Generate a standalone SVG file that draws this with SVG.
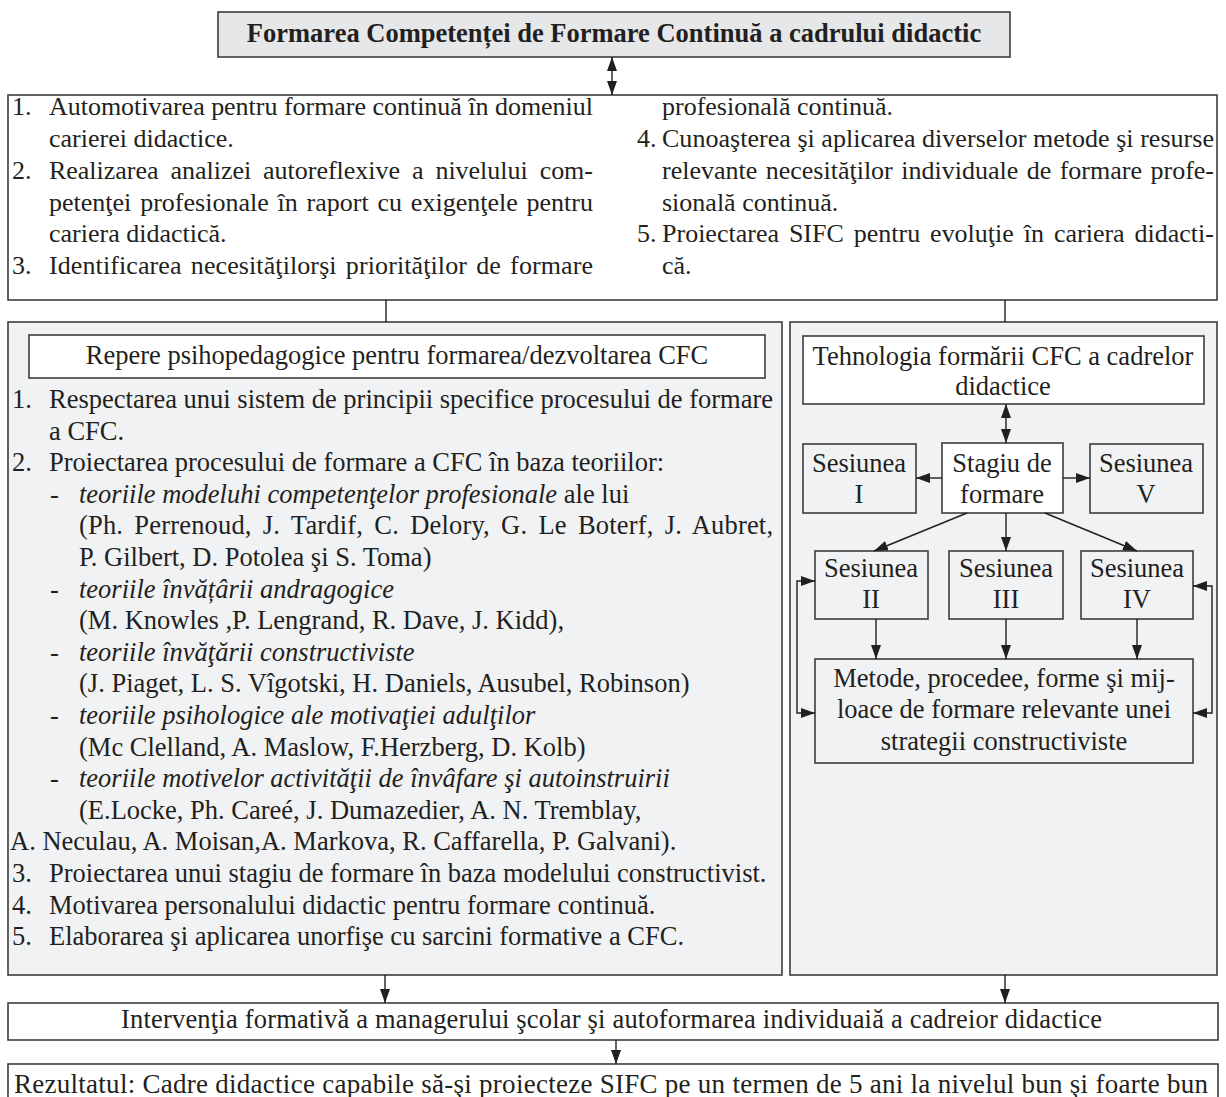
<svg xmlns="http://www.w3.org/2000/svg" width="1226" height="1097" viewBox="0 0 1226 1097">
<style>
.bx{stroke:#3c3c3c;stroke-width:1.6}
.w{fill:#ffffff}
.g{fill:#f1f2f4}
.tg{fill:#e6e7e8}
.t{font-family:"Liberation Serif","Times New Roman",serif;font-size:26.5px;fill:#231f20}
.s{font-size:26px}
.b{font-weight:bold}
.i{font-style:italic}
.c{text-anchor:middle}
.ln{stroke:#231f20;stroke-width:1.4;fill:none}
.a{marker-end:url(#ah)}
.aa{marker-start:url(#ah);marker-end:url(#ah)}
</style>
<defs>
<marker id="ah" viewBox="0 0 14 10" refX="14" refY="5" markerWidth="14" markerHeight="10" markerUnits="userSpaceOnUse" orient="auto-start-reverse"><path d="M0,0 L14,5 L0,10 z" fill="#231f20"/></marker>
</defs>
<rect width="1226" height="1097" fill="#ffffff"/>

<g id="title">
<rect class="bx tg" x="218" y="12" width="792" height="45"/>
<text class="t b c" x="614" y="42">Formarea Competenței de Formare Continuă a cadrului didactic</text>
</g>

<g id="obiective">
<rect class="bx w" x="8" y="95" width="1209" height="205"/>
<text class="t s" x="12" y="115">1.</text>
<text class="t s" x="49" y="115" textLength="544" lengthAdjust="spacing">Automotivarea pentru formare continuă în domeniul</text>
<text class="t s" x="49" y="147">carierei didactice.</text>
<text class="t s" x="12" y="179">2.</text>
<text class="t s" x="49" y="179" word-spacing="5.5" textLength="544" lengthAdjust="spacing">Realizarea analizei autoreflexive a nivelului com-</text>
<text class="t s" x="49" y="211" word-spacing="2.3" textLength="544" lengthAdjust="spacing">petenţei profesionale în raport cu exigenţele pentru</text>
<text class="t s" x="49" y="242">cariera didactică.</text>
<text class="t s" x="12" y="274">3.</text>
<text class="t s" x="49" y="274" word-spacing="2.6" textLength="544" lengthAdjust="spacing">Identificarea necesităţilorşi priorităţilor de formare</text>
<text class="t s" x="662" y="115">profesională continuă.</text>
<text class="t s" x="637" y="147">4.</text>
<text class="t s" x="662" y="147" textLength="552" lengthAdjust="spacing">Cunoaşterea şi aplicarea diverselor metode şi resurse</text>
<text class="t s" x="662" y="179" word-spacing="2" textLength="552" lengthAdjust="spacing">relevante necesităţilor individuale de formare profe-</text>
<text class="t s" x="662" y="211">sională continuă.</text>
<text class="t s" x="637" y="242">5.</text>
<text class="t s" x="662" y="242" word-spacing="3.4" textLength="552" lengthAdjust="spacing">Proiectarea SIFC pentru evoluţie în cariera didacti-</text>
<text class="t s" x="662" y="274">că.</text>
</g>

<g id="repere">
<rect class="bx g" x="8" y="322" width="774" height="653"/>
<rect class="bx w" x="29" y="335" width="736" height="43"/>
<text class="t c" x="397" y="364">Repere psihopedagogice pentru formarea/dezvoltarea CFC</text>
<text class="t" x="12" y="408">1.</text>
<text class="t" x="49" y="408" textLength="724" lengthAdjust="spacing">Respectarea unui sistem de principii specifice procesului de formare</text>
<text class="t" x="49" y="440">a CFC.</text>
<text class="t" x="12" y="471">2.</text>
<text class="t" x="49" y="471">Proiectarea procesului de formare a CFC în baza teoriilor:</text>
<text class="t" x="50" y="503">-</text>
<text class="t" x="79" y="503"><tspan class="i">teoriile modeluhi competenţelor profesionale</tspan> ale lui</text>
<text class="t" x="79" y="534" word-spacing="4.4" textLength="694" lengthAdjust="spacing">(Ph. Perrenoud, J. Tardif, C. Delory, G. Le Boterf, J. Aubret,</text>
<text class="t" x="79" y="566">P. Gilbert, D. Potolea şi S. Toma)</text>
<text class="t" x="50" y="598">-</text>
<text class="t i" x="79" y="598">teoriile învățârii andragogice</text>
<text class="t" x="79" y="629">(M. Knowles ,P. Lengrand, R. Dave, J. Kidd),</text>
<text class="t" x="50" y="661">-</text>
<text class="t i" x="79" y="661">teoriile învăţării constructiviste</text>
<text class="t" x="79" y="692">(J. Piaget, L. S. Vîgotski, H. Daniels, Ausubel, Robinson)</text>
<text class="t" x="50" y="724">-</text>
<text class="t i" x="79" y="724">teoriile psihologice ale motivaţiei adulţilor</text>
<text class="t" x="79" y="756">(Mc Clelland, A. Maslow, F.Herzberg, D. Kolb)</text>
<text class="t" x="50" y="787">-</text>
<text class="t i" x="79" y="787">teoriile motivelor activităţii de învâfare şi autoinstruirii</text>
<text class="t" x="79" y="819">(E.Locke, Ph. Careé, J. Dumazedier, A. N. Tremblay,</text>
<text class="t" x="10" y="850">A. Neculau, A. Moisan,A. Markova, R. Caffarella, P. Galvani).</text>
<text class="t" x="12" y="882">3.</text>
<text class="t" x="49" y="882">Proiectarea unui stagiu de formare în baza modelului constructivist.</text>
<text class="t" x="12" y="914">4.</text>
<text class="t" x="49" y="914">Motivarea personalului didactic pentru formare continuă.</text>
<text class="t" x="12" y="945">5.</text>
<text class="t" x="49" y="945">Elaborarea şi aplicarea unorfişe cu sarcini formative a CFC.</text>
</g>

<g id="tehnologia-panel">
<rect class="bx g" x="790" y="322" width="427" height="653"/>
</g>
<g id="tehnologia">
<rect class="bx w" x="803" y="336" width="401" height="68"/>
<text class="t c" x="1003" y="365">Tehnologia formării CFC a cadrelor</text>
<text class="t c" x="1003" y="395">didactice</text>
</g>
<g id="sesiunea1">
<rect class="bx g" x="803" y="444" width="113" height="69"/>
<text class="t c" x="859" y="472">Sesiunea</text>
<text class="t c" x="859" y="503">I</text>
</g>
<g id="stagiu">
<rect class="bx w" x="942" y="443" width="121" height="70"/>
<text class="t c" x="1002" y="472">Stagiu de</text>
<text class="t c" x="1002" y="503">formare</text>
</g>
<g id="sesiunea5">
<rect class="bx g" x="1090" y="444" width="113" height="69"/>
<text class="t c" x="1146" y="472">Sesiunea</text>
<text class="t c" x="1146" y="503">V</text>
</g>
<g id="sesiunea2">
<rect class="bx g" x="815" y="551" width="113" height="68"/>
<text class="t c" x="871" y="577">Sesiunea</text>
<text class="t c" x="871" y="608">II</text>
</g>
<g id="sesiunea3">
<rect class="bx g" x="949" y="551" width="114" height="68"/>
<text class="t c" x="1006" y="577">Sesiunea</text>
<text class="t c" x="1006" y="608">III</text>
</g>
<g id="sesiunea4">
<rect class="bx g" x="1081" y="551" width="112" height="68"/>
<text class="t c" x="1137" y="577">Sesiunea</text>
<text class="t c" x="1137" y="608">IV</text>
</g>
<g id="metode">
<rect class="bx g" x="815" y="659" width="378" height="104"/>
<text class="t c" x="1004" y="687">Metode, procedee, forme şi mij-</text>
<text class="t c" x="1004" y="718">loace de formare relevante unei</text>
<text class="t c" x="1004" y="750">strategii constructiviste</text>
</g>

<g id="interventia">
<rect class="bx w" x="8" y="1003" width="1210" height="37"/>
<text class="t" x="121" y="1028" textLength="981" lengthAdjust="spacing">Intervenţia formativă a managerului şcolar şi autoformarea individuaiă a cadreior didactice</text>
</g>
<g id="rezultatul">
<rect class="bx w" x="8" y="1064" width="1210" height="50"/>
<text class="t" x="14" y="1093" style="font-size:27px" textLength="1194" lengthAdjust="spacing">Rezultatul: Cadre didactice capabile să-şi proiecteze SIFC pe un termen de 5 ani la nivelul bun şi foarte bun</text>
</g>

<g id="connectors">
<line class="ln aa" x1="612" y1="57" x2="612" y2="95"/>
<line class="ln" x1="386" y1="300" x2="386" y2="322"/>
<line class="ln" x1="1005" y1="300" x2="1005" y2="322"/>
<line class="ln aa" x1="1006" y1="404" x2="1006" y2="443"/>
<line class="ln a" x1="942" y1="478" x2="916" y2="478"/>
<line class="ln a" x1="1063" y1="478" x2="1090" y2="478"/>
<line class="ln a" x1="967" y1="513" x2="874" y2="551"/>
<line class="ln a" x1="1006" y1="513" x2="1006" y2="551"/>
<line class="ln a" x1="1045" y1="513" x2="1137" y2="551"/>
<line class="ln a" x1="876" y1="619" x2="876" y2="659"/>
<line class="ln a" x1="1006" y1="619" x2="1006" y2="659"/>
<line class="ln a" x1="1137" y1="619" x2="1137" y2="659"/>
<polyline class="ln aa" points="815,581 797,581 797,713 815,713"/>
<polyline class="ln aa" points="1193,586 1212,586 1212,713 1193,713"/>
<line class="ln a" x1="385" y1="975" x2="385" y2="1003"/>
<line class="ln a" x1="1005" y1="975" x2="1005" y2="1003"/>
<line class="ln a" x1="616" y1="1040" x2="616" y2="1064"/>
</g>
</svg>
